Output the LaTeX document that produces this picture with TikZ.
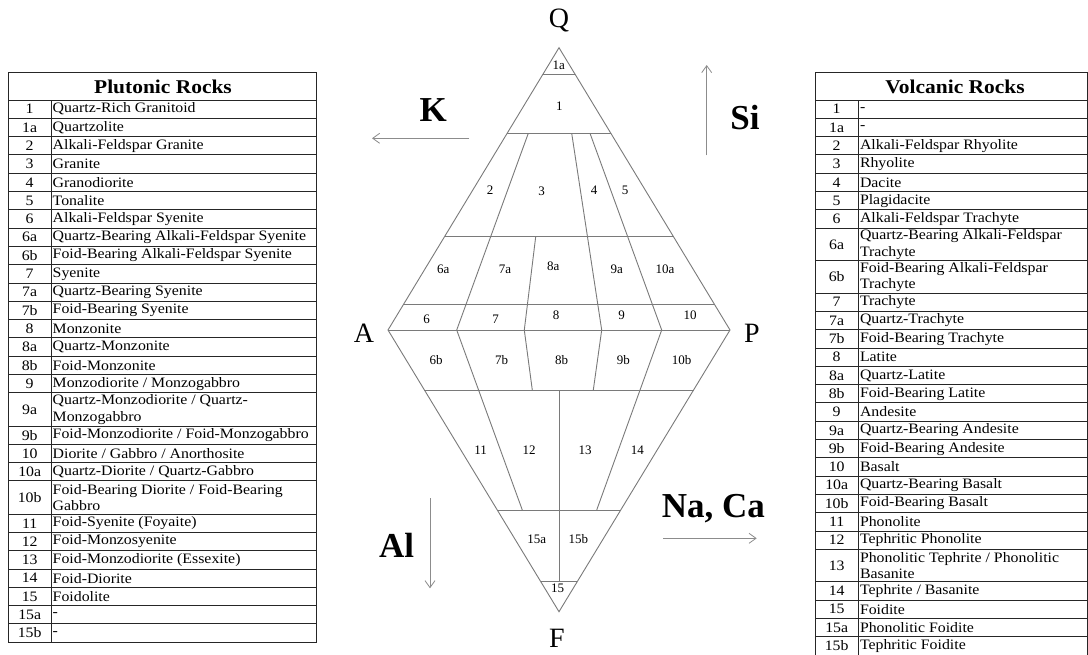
\documentclass[tikz,border=0pt]{standalone}
\usepackage{fontspec}
\setmainfont{Liberation Serif}
\newfontfamily\tabfont[FakeStretch=1.1]{Liberation Serif}
\usetikzlibrary{arrows.meta,calc}

\tikzset{
  tabline/.style={draw=black!85, line width=0.9pt},
  dline/.style={draw=black!52, line width=0.9pt},
  numtxt/.style={font=\tabfont\fontsize{14.4}{16}\selectfont, inner sep=0pt, anchor=center},
  rowtxt/.style={font=\tabfont\fontsize{14.4}{16.5}\selectfont, inner sep=0pt, anchor=west, align=left},
  titletxt/.style={font=\tabfont\bfseries\fontsize{19.5}{21}\selectfont, inner sep=0pt},
  lab/.style={font=\fontsize{13}{13}\selectfont, inner sep=0pt},
  vert/.style={font=\fontsize{28}{28}\selectfont, inner sep=0pt},
  elem/.style={font=\bfseries\fontsize{35}{35}\selectfont, inner sep=0pt},
  arr/.style={draw=black!45, line width=0.8pt, -{Straight Barb[length=7pt,width=10pt]}}
}

\newcommand\tabrow[4]{%
  \pgfmathsetmacro\rowbot{\rowy+#4}%
  \pgfmathsetmacro\rowmid{\rowy+#4/2}%
  \node[numtxt] (#1n#2) at (\numx,\rowmid) {#2};%
  \node[rowtxt] (#1t#2) at (\txtx,\rowmid) {#3};%
  \draw[tabline] (\tabl,\rowbot) -- (\tabr,\rowbot);%
  \global\let\rowy\rowbot}

\begin{document}
\begin{tikzpicture}[x=1pt,y=-1pt]
\useasboundingbox (0,0) rectangle (1088,654);
\fill[white] (0,0) rectangle (1088,654);

% ---------------- Left table: Plutonic Rocks ----------------
\def\sr{18.3}\def\dr{33.2}
\def\tabl{8.3}\def\tabr{316.7}\def\numx{29.7}\def\txtx{52.5}
\draw[tabline] (8.3,72.7) rectangle (316.7,642.2);
\draw[tabline] (8.3,100) -- (316.7,100);
\draw[tabline] (51,100) -- (51,642.2);
\node[titletxt] (ptitle) at (163,86.5) {Plutonic Rocks};
\def\rowy{100}
\tabrow{L}{1}{Quartz-Rich Granitoid}{\sr}
\tabrow{L}{1a}{Quartzolite}{\sr}
\tabrow{L}{2}{Alkali-Feldspar Granite}{\sr}
\tabrow{L}{3}{Granite}{\sr}
\tabrow{L}{4}{Granodiorite}{\sr}
\tabrow{L}{5}{Tonalite}{\sr}
\tabrow{L}{6}{Alkali-Feldspar Syenite}{\sr}
\tabrow{L}{6a}{Quartz-Bearing Alkali-Feldspar Syenite}{\sr}
\tabrow{L}{6b}{Foid-Bearing Alkali-Feldspar Syenite}{\sr}
\tabrow{L}{7}{Syenite}{\sr}
\tabrow{L}{7a}{Quartz-Bearing Syenite}{\sr}
\tabrow{L}{7b}{Foid-Bearing Syenite}{\sr}
\tabrow{L}{8}{Monzonite}{\sr}
\tabrow{L}{8a}{Quartz-Monzonite}{\sr}
\tabrow{L}{8b}{Foid-Monzonite}{\sr}
\tabrow{L}{9}{Monzodiorite / Monzogabbro}{\sr}
\tabrow{L}{9a}{Quartz-Monzodiorite / Quartz-\\Monzogabbro}{\dr}
\tabrow{L}{9b}{Foid-Monzodiorite / Foid-Monzogabbro}{\sr}
\tabrow{L}{10}{Diorite / Gabbro / Anorthosite}{\sr}
\tabrow{L}{10a}{Quartz-Diorite / Quartz-Gabbro}{\sr}
\tabrow{L}{10b}{Foid-Bearing Diorite / Foid-Bearing\\Gabbro}{\dr}
\tabrow{L}{11}{Foid-Syenite (Foyaite)}{\sr}
\tabrow{L}{12}{Foid-Monzosyenite}{\sr}
\tabrow{L}{13}{Foid-Monzodiorite (Essexite)}{\sr}
\tabrow{L}{14}{Foid-Diorite}{\sr}
\tabrow{L}{15}{Foidolite}{\sr}
\tabrow{L}{15a}{-}{\sr}
\tabrow{L}{15b}{-}{\sr}

% ---------------- Right table: Volcanic Rocks ----------------
\def\dr{32.5}
\def\tabl{815}\def\tabr{1087.5}\def\numx{836.7}\def\txtx{859.8}
\draw[tabline] (815,72.7) rectangle (1087.5,656.5);
\draw[tabline] (815,100) -- (1087.5,100);
\draw[tabline] (858.3,100) -- (858.3,656.5);
\node[titletxt] (vtitle) at (955,86.5) {Volcanic Rocks};
\def\rowy{100}
\tabrow{V}{1}{-}{\sr}
\tabrow{V}{1a}{-}{\sr}
\tabrow{V}{2}{Alkali-Feldspar Rhyolite}{\sr}
\tabrow{V}{3}{Rhyolite}{\sr}
\tabrow{V}{4}{Dacite}{\sr}
\tabrow{V}{5}{Plagidacite}{\sr}
\tabrow{V}{6}{Alkali-Feldspar Trachyte}{\sr}
\tabrow{V}{6a}{Quartz-Bearing Alkali-Feldspar\\Trachyte}{\dr}
\tabrow{V}{6b}{Foid-Bearing Alkali-Feldspar\\Trachyte}{\dr}
\tabrow{V}{7}{Trachyte}{\sr}
\tabrow{V}{7a}{Quartz-Trachyte}{\sr}
\tabrow{V}{7b}{Foid-Bearing Trachyte}{\sr}
\tabrow{V}{8}{Latite}{\sr}
\tabrow{V}{8a}{Quartz-Latite}{\sr}
\tabrow{V}{8b}{Foid-Bearing Latite}{\sr}
\tabrow{V}{9}{Andesite}{\sr}
\tabrow{V}{9a}{Quartz-Bearing Andesite}{\sr}
\tabrow{V}{9b}{Foid-Bearing Andesite}{\sr}
\tabrow{V}{10}{Basalt}{\sr}
\tabrow{V}{10a}{Quartz-Bearing Basalt}{\sr}
\tabrow{V}{10b}{Foid-Bearing Basalt}{\sr}
\tabrow{V}{11}{Phonolite}{\sr}
\tabrow{V}{12}{Tephritic Phonolite}{\sr}
\tabrow{V}{13}{Phonolitic Tephrite / Phonolitic\\Basanite}{\dr}
\tabrow{V}{14}{Tephrite / Basanite}{\sr}
\tabrow{V}{15}{Foidite}{\sr}
\tabrow{V}{15a}{Phonolitic Foidite}{\sr}
\tabrow{V}{15b}{Tephritic Foidite}{\sr}

% ---------------- QAPF diamond ----------------
\coordinate (Q) at (559,47.7);
\coordinate (A) at (388,330);
\coordinate (P) at (730,330);
\coordinate (F) at (559,611.7);
\draw[dline] (Q) -- (P) -- (F) -- (A) -- cycle;
\draw[dline] (A) -- (P);
% horizontal subdivisions
\draw[dline] (543.1,74) -- (574.9,74);
\draw[dline] (507.15,133.3) -- (610.85,133.3);
\draw[dline] (444.5,236.7) -- (673.5,236.7);
\draw[dline] (403.8,304) -- (714.2,304);
\draw[dline] (424.4,390) -- (693.6,390);
\draw[dline] (497.3,510) -- (620.7,510);
\draw[dline] (540.8,581.7) -- (577.2,581.7);
% inner lines
\coordinate (u23) at (528.3,133.3);
\coordinate (u34) at (571.7,133.3);
\coordinate (u45) at (590,133.3);
\coordinate (a67) at (456.7,330);
\coordinate (a78) at (524.3,330);
\coordinate (a89) at (601.7,330);
\coordinate (a910) at (661.7,330);
\draw[dline] (u23) -- (a67) -- (522.3,510);
\draw[dline] (u34) -- (a89) -- (593.3,390);
\draw[dline] (u45) -- (a910) -- (596.7,510);
\draw[dline] (535.7,236.7) -- (a78) -- (532.3,390);
\draw[dline] (559,390) -- (559,581.7);

% field labels
\node[lab] (f1a) at (558.8,65.5) {1a};
\node[lab] (f1) at (559.3,106) {1};
\node[lab] (f2) at (490,190) {2};
\node[lab] (f3) at (541.7,191.7) {3};
\node[lab] (f4) at (594,190.7) {4};
\node[lab] (f5) at (625,190) {5};
\node[lab] (f6a) at (443.3,269.3) {6a};
\node[lab] (f7a) at (505,269.3) {7a};
\node[lab] (f8a) at (553.3,266.7) {8a};
\node[lab] (f9a) at (616.7,269.3) {9a};
\node[lab] (f10a) at (665,269.3) {10a};
\node[lab] (f6) at (426.7,319) {6};
\node[lab] (f7) at (495.7,319) {7};
\node[lab] (f8) at (556,315) {8};
\node[lab] (f9) at (621.7,315) {9};
\node[lab] (f10) at (690,315) {10};
\node[lab] (f6b) at (436,360) {6b};
\node[lab] (f7b) at (501.7,360) {7b};
\node[lab] (f8b) at (561.7,360) {8b};
\node[lab] (f9b) at (623.3,360) {9b};
\node[lab] (f10b) at (681.7,360) {10b};
\node[lab] (f11) at (480.7,450) {11};
\node[lab] (f12) at (529,450) {12};
\node[lab] (f13) at (585,450) {13};
\node[lab] (f14) at (637.3,450) {14};
\node[lab] (f15a) at (536.7,539.3) {15a};
\node[lab] (f15b) at (578.3,539.3) {15b};
\node[lab] (f15) at (557.5,588.5) {15};

% vertex labels
\node[vert] (lQ) at (559,20) {Q};
\node[vert] (lA) at (364,333) {A};
\node[vert] (lP) at (752,333) {P};
\node[vert] (lF) at (557,638.5) {F};

% element arrows
\node[elem] (lK) at (433.3,110) {K};
\coordinate (k1) at (469.3,138.3);
\coordinate (k2) at (372,138.3);
\draw[arr] (k1) -- (k2);
\node[elem] (lSi) at (745,118) {Si};
\coordinate (s1) at (706.7,155.3);
\coordinate (s2) at (706.7,65);
\draw[arr] (s1) -- (s2);
\node[elem] (lAl) at (396.7,545) {Al};
\coordinate (al1) at (430,498.3);
\coordinate (al2) at (430,588.3);
\draw[arr] (al1) -- (al2);
\node[elem] (lNa) at (713.3,508.3) {Na, Ca};
\coordinate (n1) at (663.3,538.3);
\coordinate (n2) at (756.7,538.3);
\draw[arr] (n1) -- (n2);
\end{tikzpicture}
\end{document}
